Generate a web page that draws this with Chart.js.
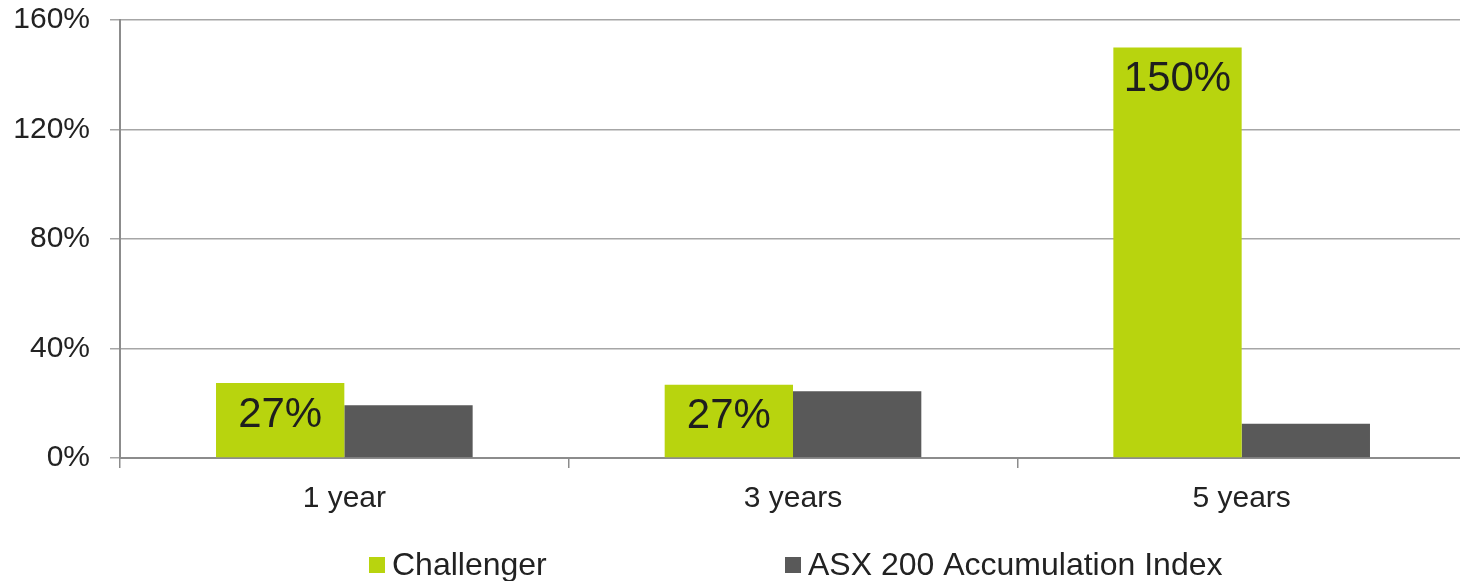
<!DOCTYPE html>
<html>
<head>
<meta charset="utf-8">
<script src="https://cdn.jsdelivr.net/npm/chart.js@4"></script>
<style>
  html, body { margin: 0; padding: 0; background: #fff; }
  #wrap { width: 1460px; height: 581px; overflow: hidden; }
</style>
</head>
<body>
<div id="wrap"><canvas id="returnsChart" width="1466" height="581"></canvas></div>
<script>
// data
const periods = ['1 year', '3 years', '5 years'];
const challenger = [27.4, 26.8, 150];
const asx200 = [19.3, 24.4, 12.5];
const yTicks = [0, 40, 80, 120, 160];

const GREEN = '#b8d40e';
const GREY = '#595959';
const FONT = '"Liberation Sans", Arial, sans-serif';

// value labels inside the Challenger bars
const barLabels = {
  id: 'barLabels',
  afterDatasetsDraw(chart) {
    const ctx = chart.ctx;
    const meta = chart.getDatasetMeta(0);
    ctx.save();
    ctx.font = '42px ' + FONT;
    ctx.fillStyle = '#1e1e1e';
    ctx.textAlign = 'center';
    ctx.textBaseline = 'middle';
    meta.data.forEach((bar, i) => {
      ctx.fillText(Math.round(challenger[i]) + '%', bar.x, bar.y + 32);
    });
    ctx.restore();
  }
};

// legend at the bottom, spaced wide like the original
const wideLegend = {
  id: 'wideLegend',
  afterDraw(chart) {
    const ctx = chart.ctx;
    const starts = [369, 785];
    const y = 565;
    ctx.save();
    ctx.font = '32px ' + FONT;
    ctx.textBaseline = 'middle';
    ctx.textAlign = 'left';
    chart.data.datasets.forEach((ds, i) => {
      ctx.fillStyle = ds.backgroundColor;
      ctx.fillRect(starts[i], y - 8, 16, 16);
      ctx.fillStyle = '#222';
      ctx.fillText(ds.label, starts[i] + 23, y + 1);
    });
    ctx.restore();
  }
};

const ctx = document.getElementById('returnsChart').getContext('2d');
const chart = new Chart(ctx, {
  type: 'bar',
  data: {
    labels: periods,
    datasets: [
      { label: 'Challenger', data: challenger, backgroundColor: GREEN },
      { label: 'ASX 200 Accumulation Index', data: asx200, backgroundColor: GREY }
    ]
  },
  options: {
    responsive: false,
    animation: false,
    layout: { padding: { top: 20, right: 0, bottom: 63, left: 0 } },
    datasets: {
      bar: { categoryPercentage: 0.572, barPercentage: 1.0 }
    },
    plugins: {
      legend: { display: false },
      tooltip: { enabled: false }
    },
    scales: {
      x: {
        afterFit: s => { s.height = 60; },
        grid: {
          offset: true,
          drawOnChartArea: false,
          drawTicks: true,
          tickLength: 10,
          color: '#8c8c8c',
          lineWidth: 1.5
        },
        border: { color: '#8c8c8c', width: 2 },
        ticks: {
          padding: 13,
          color: '#222',
          font: { family: FONT, size: 30 }
        }
      },
      y: {
        min: 0,
        max: 160,
        afterFit: s => { s.width = 120; s.paddingTop = 0; s.paddingBottom = 0; },
        afterBuildTicks: s => { s.ticks = yTicks.map(v => ({ value: v })); },
        grid: {
          color: '#a6a6a6',
          lineWidth: 1.5,
          tickLength: 10
        },
        border: { color: '#8c8c8c', width: 2 },
        ticks: {
          padding: 20,
          color: '#222',
          font: { family: FONT, size: 30 },
          callback: v => v + '%'
        }
      }
    }
  },
  plugins: [barLabels, wideLegend]
});
</script>
</body>
</html>
